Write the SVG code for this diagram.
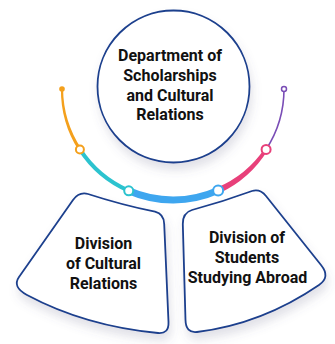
<svg xmlns="http://www.w3.org/2000/svg" width="335" height="344" viewBox="0 0 335 344">
<defs>
<filter id="sh" x="-20%" y="-20%" width="140%" height="150%">
<feDropShadow dx="2" dy="7" stdDeviation="5" flood-color="#5a6080" flood-opacity="0.18"/>
</filter>
<style>
.node{fill:#fff;stroke:#1b3f8d;stroke-width:1.8;filter:url(#sh)}
.lbl{font-family:Roboto,"Liberation Sans",sans-serif;font-weight:700;font-size:16px;fill:#111;text-anchor:middle}
.seg{fill:none;stroke-linecap:butt}
.dot{fill:#fff;stroke-width:2}
</style>
</defs>
<rect width="335" height="344" fill="#fff"/>
<g id="connectors">
<path d="M 60.9 89 A 112.3 112.3 0 0 0 78.56 150.32 L 81.25 148.58 A 109.7 109.7 0 0 1 63.1 89 Z" fill="#f4a01c"/>
<path class="seg" d="M 79.9 149.45 A 111 111 0 0 0 128.73 190.79" stroke="#2cc3cf" stroke-width="4"/>
<path class="seg" d="M 128.73 190.79 A 111 111 0 0 0 218.14 190.4" stroke="#3ea6ef" stroke-width="7"/>
<path d="M 219.37 193.14 A 113.4 113.4 0 0 0 267.56 150.4 L 264.63 148.5 A 108.6 108.6 0 0 1 216.93 187.66 Z" fill="#e8407a"/>
<path class="seg" d="M 266.09 149.45 A 111 111 0 0 0 284 89" stroke="#7a4db6" stroke-width="1.6"/>
<circle cx="62" cy="89" r="2.8" fill="#f4a01c"/>
<circle cx="284" cy="89" r="2.5" fill="#fff" stroke="#7a4db6" stroke-width="1.5"/>
<circle class="dot" cx="79.9" cy="149.45" r="4" stroke="#f4a01c"/>
<circle class="dot" cx="128.73" cy="190.79" r="4.5" stroke="#2cc3cf"/>
<circle class="dot" cx="218.14" cy="190.4" r="5" stroke="#3ea6ef"/>
<circle class="dot" cx="266.09" cy="149.45" r="4.5" stroke="#e8407a"/>
</g>
<g id="dept">
<circle class="node" cx="173.5" cy="86.5" r="76"/>
<text class="lbl" x="170" y="61">Department of</text>
<text class="lbl" x="170" y="81">Scholarships</text>
<text class="lbl" x="170" y="101">and Cultural</text>
<text class="lbl" x="170" y="120">Relations</text>
</g>
<g id="div-cultural">
<path class="node" d="M 73 200 Q 79 191.6 88 194 Q 122 205 155 211.7 Q 164 214.1 164.2 224 L 168.5 322 Q 169 334 158 333 Q 85 326 27 295 Q 12 287 19 277 Z"/>
<text class="lbl" x="103.5" y="249">Division</text>
<text class="lbl" x="103.5" y="269">of Cultural</text>
<text class="lbl" x="103.5" y="289">Relations</text>
</g>
<g id="div-abroad">
<path class="node" d="M 182.8 224 Q 182.6 212.9 192 210 Q 222 202 252 191 Q 260 188.5 266 196 L 321 265 Q 330.8 277 319 285 Q 262 324 197 332 Q 185.8 333.4 185.5 320 Z"/>
<text class="lbl" x="247" y="243.3">Division of</text>
<text class="lbl" x="247" y="263.3">Students</text>
<text class="lbl" x="247.5" y="283.3">Studying Abroad</text>
</g>
</svg>
